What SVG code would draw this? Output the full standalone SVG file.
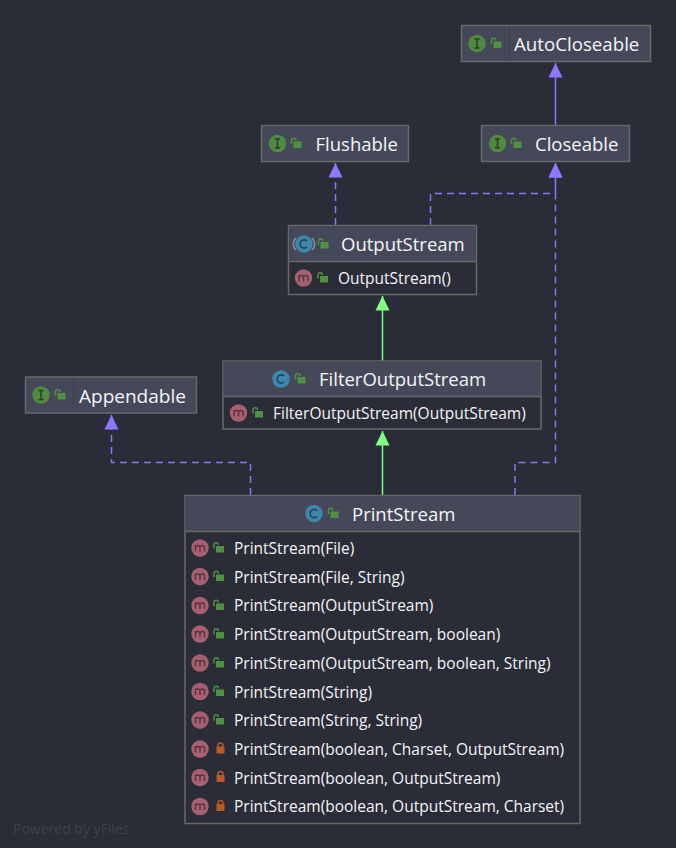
<svg xmlns="http://www.w3.org/2000/svg" width="676" height="848" viewBox="0 0 676 848">
<style>
.bg{fill:#2a2c37}
.box{fill:#2a2c37;stroke:#686868;stroke-width:1.5}
.frame{fill:none;stroke:#686868;stroke-width:1.5}
.head{fill:#454859}
.sep{stroke:#686868;stroke-width:1.5}
text{font-family:"Open Sans","Noto Sans","Liberation Sans",sans-serif;fill:#f4f5f8}
.t{font-size:18.5px}
.m{font-size:15.5px}
.wm{font-size:14px;fill:#3f4149}
.edge{fill:none;stroke:#8a75f2;stroke-width:1.5}
.dash{stroke-dasharray:7 5}
.green{fill:none;stroke:#80ff80;stroke-width:1.5}
</style>
<defs>
<marker id="hv" markerUnits="userSpaceOnUse" markerWidth="16" markerHeight="16" refX="7.5" refY="0" orient="0" overflow="visible"><path d="M7.500 0L14.500 14.500H0.500Z" fill="#8f78ff"/></marker>
<marker id="hg" markerUnits="userSpaceOnUse" markerWidth="16" markerHeight="16" refX="7.5" refY="0" orient="0" overflow="visible"><path d="M7.500 0L14.500 14.500H0.500Z" fill="#80ff80"/></marker>
<g id="open"><path d="M-4.500 0V-3.500a2.200 2.200 0 0 1 4.400 0" fill="none" stroke="#4f9141" stroke-width="1.500"/><rect x="-2.500" y="-2.500" width="8" height="6.500" fill="#4f9141"/></g>
<g id="lock"><path d="M-2.500 -2V-3a2.500 2.500 0 0 1 5 0V-2" fill="none" stroke="#bd5a28" stroke-width="1.500"/><rect x="-4" y="-2" width="8" height="7" fill="#bd5a28"/></g>
<g id="ii"><circle r="8.700" fill="#4f8a3f"/><path d="M-2.500 -4.500H2.500M-2.500 4.500H2.500M0 -4.500V4.500" stroke="#2f3a2c" stroke-width="1.500" fill="none"/></g>
<g id="cc"><circle r="8.700" fill="#3c87ab"/><path d="M3 -3a4 4.200 0 1 0 0 6" stroke="#28444f" stroke-width="1.700" fill="none"/></g>
<g id="mm"><circle r="8.700" fill="#a7606f"/><path d="M-4.500 3.500V-3M-4.500 -1.500Q-2.500 -3.500 0 -1.500V3.500M0 -1.500Q2.500 -3.500 4.500 -1.500V3.500" stroke="#56343d" stroke-width="1.400" fill="none"/></g>
</defs>
<rect class="bg" width="676" height="848"/>
<text class="wm" x="13" y="834">Powered by yFiles</text>

<g id="connectors">
<path class="edge" d="M555.500 125V63" marker-end="url(#hv)"/>
<path class="edge dash" d="M335.500 225V163" marker-end="url(#hv)"/>
<path class="edge dash" d="M430.500 225V193.500H555.500V163" marker-end="url(#hv)"/>
<path class="edge dash" d="M515 495V462.500H555.500V163" marker-end="url(#hv)"/>
<path class="edge dash" d="M250.500 495V462.500H111.500V415" marker-end="url(#hv)"/>
<path class="green" d="M382.500 361V296" marker-end="url(#hg)"/>
<path class="green" d="M382.500 495V431" marker-end="url(#hg)"/>
</g>

<g id="autocloseable">
<rect class="head" x="461.500" y="25.500" width="189" height="36"/><rect class="frame" x="461.500" y="25.500" width="189" height="36"/>
<path d="M509.500 26V61" stroke="#3d404f"/>
<use href="#ii" x="477" y="43.500"/><use href="#open" x="496" y="44"/>
<text class="t" style="font-size:18.7px" x="514" y="51">AutoCloseable</text>
</g>
<g id="closeable">
<rect class="head" x="481.500" y="125.500" width="148" height="36"/><rect class="frame" x="481.500" y="125.500" width="148" height="36"/>
<use href="#ii" x="497.500" y="143.500"/><use href="#open" x="516" y="144"/>
<text class="t" x="535" y="151">Closeable</text>
</g>
<g id="flushable">
<rect class="head" x="261.500" y="125.500" width="147" height="36"/><rect class="frame" x="261.500" y="125.500" width="147" height="36"/>
<use href="#ii" x="277.500" y="143.500"/><use href="#open" x="296" y="144"/>
<text class="t" x="315.500" y="151">Flushable</text>
</g>
<g id="outputstream">
<rect class="box" x="288.500" y="225.500" width="188" height="69"/>
<rect class="head" x="289" y="226" width="187" height="35.500"/>
<path class="sep" d="M288.500 261.500H476.500"/>
<path d="M296 238a8 8 0 0 0 0 12M312 238a8 8 0 0 1 0 12" fill="none" stroke="#8f919c" stroke-width="1.500"/>
<use href="#cc" x="304" y="244"/><use href="#open" x="323" y="244.500"/>
<text class="t" x="341" y="251">OutputStream</text>
<use href="#mm" x="303.500" y="278"/><use href="#open" x="322.500" y="278.500"/>
<text class="m" x="338" y="284">OutputStream()</text>
</g>
<g id="filteroutputstream">
<rect class="box" x="223" y="361" width="318" height="68"/>
<rect class="head" x="223.500" y="361.500" width="317" height="35"/>
<path class="sep" d="M223 396.500H541"/>
<use href="#cc" x="281" y="379"/><use href="#open" x="300" y="379.500"/>
<text class="t" x="319" y="386">FilterOutputStream</text>
<use href="#mm" x="238.500" y="413"/><use href="#open" x="257.500" y="413.500"/>
<text class="m" x="273" y="419">FilterOutputStream(OutputStream)</text>
</g>
<g id="appendable">
<rect class="head" x="25.500" y="377" width="171" height="36"/><rect class="frame" x="25.500" y="377" width="171" height="36"/>
<path d="M73.500 378V412" stroke="#3d404f"/>
<use href="#ii" x="41" y="395"/><use href="#open" x="60" y="395.500"/>
<text class="t" style="font-size:19px" x="79" y="403">Appendable</text>
</g>
<g id="printstream">
<rect class="box" x="185" y="495.500" width="395" height="328"/>
<rect class="head" x="185.500" y="496" width="394" height="35.500"/>
<path class="sep" d="M185 531.500H580"/>
<use href="#cc" x="314" y="513.500"/><use href="#open" x="333" y="514"/>
<text class="t" x="352" y="520.500">PrintStream</text>
<use href="#mm" x="200" y="548"/><use href="#open" x="218.500" y="548.500"/><text class="m" x="234" y="554">PrintStream(File)</text>
<use href="#mm" x="200" y="576.500"/><use href="#open" x="218.500" y="577"/><text class="m" x="234" y="583">PrintStream(File, String)</text>
<use href="#mm" x="200" y="605.500"/><use href="#open" x="218.500" y="606"/><text class="m" x="234" y="611">PrintStream(OutputStream)</text>
<use href="#mm" x="200" y="634"/><use href="#open" x="218.500" y="634.500"/><text class="m" x="234" y="640">PrintStream(OutputStream, boolean)</text>
<use href="#mm" x="200" y="663"/><use href="#open" x="218.500" y="663.500"/><text class="m" x="234" y="669">PrintStream(OutputStream, boolean, String)</text>
<use href="#mm" x="200" y="691.500"/><use href="#open" x="218.500" y="692"/><text class="m" x="234" y="698">PrintStream(String)</text>
<use href="#mm" x="200" y="720"/><use href="#open" x="218.500" y="720.500"/><text class="m" x="234" y="726">PrintStream(String, String)</text>
<use href="#mm" x="200" y="749"/><use href="#lock" x="220.500" y="748.500"/><text class="m" x="234" y="755">PrintStream(boolean, Charset, OutputStream)</text>
<use href="#mm" x="200" y="777.500"/><use href="#lock" x="220.500" y="777"/><text class="m" x="234" y="784">PrintStream(boolean, OutputStream)</text>
<use href="#mm" x="200" y="806.500"/><use href="#lock" x="220.500" y="806"/><text class="m" x="234" y="812">PrintStream(boolean, OutputStream, Charset)</text>
</g>
</svg>
